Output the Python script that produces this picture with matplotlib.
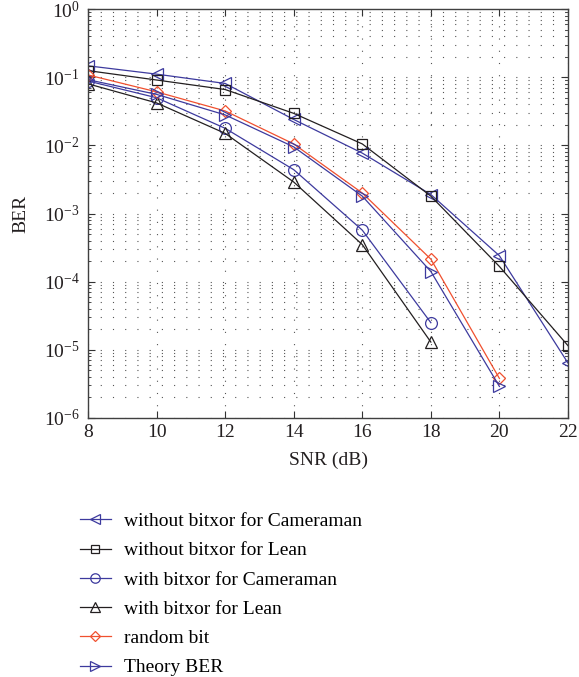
import matplotlib
matplotlib.use("Agg")
import matplotlib.pyplot as plt
from matplotlib.ticker import LogLocator, MultipleLocator, NullFormatter

# SNR points (dB) and measured bit error rates
snr_full = [8, 10, 12, 14, 16, 18, 20, 22]
snr_to18 = [8, 10, 12, 14, 16, 18]
snr_to20 = [8, 10, 12, 14, 16, 18, 20]

ber_cam_plain = [0.147, 0.111, 0.081, 0.024, 0.0077, 0.0019, 0.00024, 6.4e-6]
ber_lean_plain = [0.125, 0.091, 0.066, 0.0295, 0.0105, 0.0018, 0.000167, 1.15e-5]
ber_cam_xor = [0.088, 0.050, 0.0178, 0.0044, 0.00057, 2.5e-5]
ber_lean_xor = [0.080, 0.042, 0.015, 0.0029, 0.00035, 1.3e-5]
ber_random = [0.108, 0.061, 0.032, 0.0105, 0.0020, 0.000214, 3.8e-6]
ber_theory = [0.092, 0.056, 0.028, 0.0095, 0.0018, 0.000141, 2.9e-6]

labels = ["without bitxor for Cameraman", "without bitxor for Lean",
          "with bitxor for Cameraman", "with bitxor for Lean",
          "random bit", "Theory BER"]

BLUE = "#3d3a9e"
BLACK = "#231f20"
RED = "#f0502f"

plt.rcParams["font.family"] = "serif"
plt.rcParams["font.serif"] = ["Liberation Serif", "DejaVu Serif"]
plt.rcParams["mathtext.fontset"] = "custom"
plt.rcParams["mathtext.rm"] = "Liberation Serif"
plt.rcParams["mathtext.it"] = "Liberation Serif:italic"
plt.rcParams["font.size"] = 14

fig = plt.figure(figsize=(5.79, 6.77), dpi=100)
ax = fig.add_axes([0.152, 0.3826, 0.829, 0.604])

series = [
    (snr_full, ber_cam_plain, BLUE, "<"),
    (snr_full, ber_lean_plain, BLACK, "s"),
    (snr_to18, ber_cam_xor, BLUE, "o"),
    (snr_to18, ber_lean_xor, BLACK, "^"),
    (snr_to20, ber_random, RED, "D"),
    (snr_to20, ber_theory, BLUE, ">"),
]
ms = {"<": 9, "s": 7, "o": 8.5, "^": 9, "D": 6.5, ">": 9}

handles = []
for (x, y, c, m), lab in zip(series, labels):
    h, = ax.plot(x, y, color=c, marker=m, markersize=ms[m], markerfacecolor="none",
                 markeredgecolor=c, markeredgewidth=0.9, linewidth=0.9, label=lab)
    handles.append(h)

ax.set_yscale("log")
ax.set_xlim(8, 22)
ax.set_ylim(1e-6, 1)
ax.xaxis.set_major_locator(MultipleLocator(2))
ax.yaxis.set_major_locator(LogLocator(base=10, numticks=10))
ax.yaxis.set_minor_locator(LogLocator(base=10, subs=range(2, 10), numticks=10))
ax.yaxis.set_minor_formatter(NullFormatter())

# dotted grid, sparse dots like a printed MATLAB figure
ax.grid(True, which="major", axis="both", color="#555555",
        linestyle=(0, (1, 10)), linewidth=0.8)
ax.grid(True, which="minor", axis="y", color="#555555",
        linestyle=(0, (1, 10)), linewidth=0.8)

ax.tick_params(which="both", direction="in", top=True, right=True, colors="#333333")
ax.tick_params(which="major", length=5, width=0.8, labelsize=14)
ax.tick_params(axis="y", which="major", pad=6)
ax.tick_params(axis="x", which="major", pad=4)
ax.tick_params(which="minor", length=2.5, width=0.6)
for lbl in ax.get_xticklabels() + ax.get_yticklabels():
    lbl.set_color("#231f20")
for sp in ax.spines.values():
    sp.set_color("#404040")
    sp.set_linewidth(1.0)

ax.set_xlabel("SNR (dB)", fontsize=14, color="#231f20", labelpad=8)
ax.set_ylabel("BER", fontsize=14, color="#231f20", labelpad=10)

fig.legend(handles=handles, loc="upper left", bbox_to_anchor=(0.138, 0.243),
           frameon=False, fontsize=14, handlelength=1.6, handletextpad=0.65,
           labelspacing=0.6, borderpad=0, borderaxespad=0, markerscale=0.8)

fig.savefig("out.png", dpi=100)
